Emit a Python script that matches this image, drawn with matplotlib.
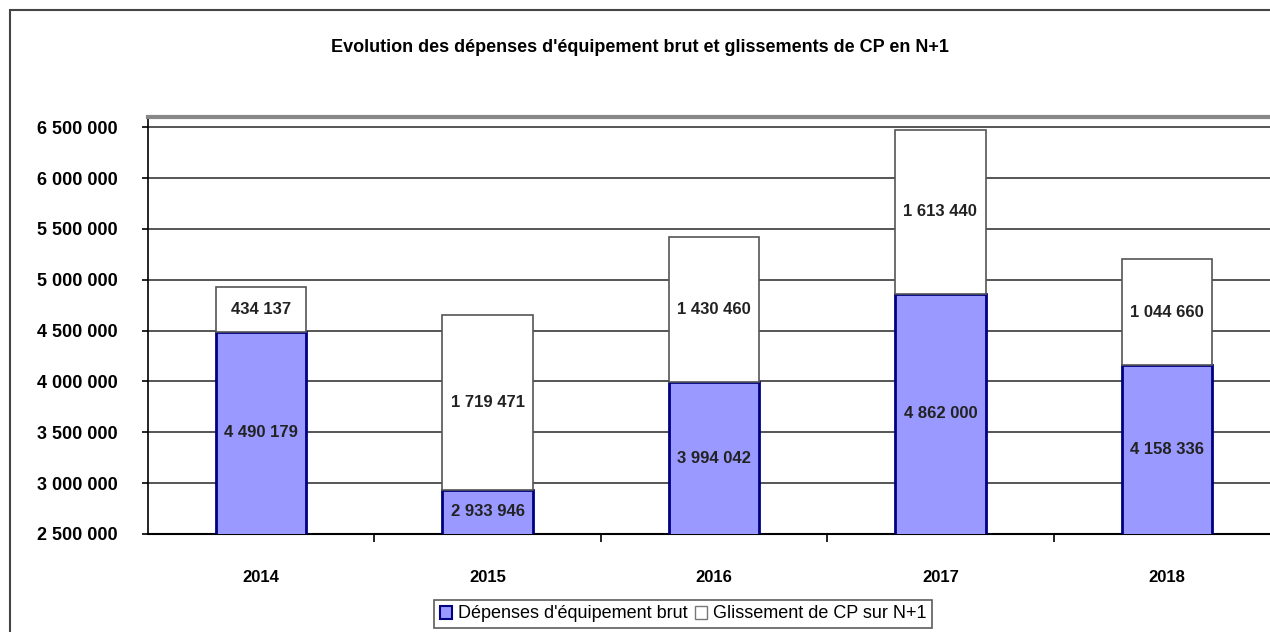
import matplotlib
matplotlib.use("Agg")
import matplotlib.pyplot as plt
from matplotlib.patches import Rectangle, Patch
from matplotlib.ticker import FuncFormatter

years = ["2014", "2015", "2016", "2017", "2018"]
depenses = [4490179, 2933946, 3994042, 4862000, 4158336]
glissement = [434137, 1719471, 1430460, 1613440, 1044660]
ticks = [2500000, 3000000, 3500000, 4000000, 4500000, 5000000, 5500000, 6000000, 6500000]

title = "Evolution des dépenses d'équipement brut et glissements de CP en N+1"
leg_labels = ["Dépenses d'équipement brut", "Glissement de CP sur N+1"]

FONT = ["Liberation Sans", "DejaVu Sans"]
plt.rcParams["font.family"] = FONT

W, H = 1270, 632
fig = plt.figure(figsize=(W / 100, H / 100), dpi=100)
fig.patch.set_facecolor("white")

# outer chart border
fig.add_artist(Rectangle((10 / W, -0.05), 1.1, 1 - 10 / H + 0.05, transform=fig.transFigure,
                         fill=False, edgecolor="#444444", linewidth=1.5, clip_on=False))

left, right = 148 / W, 1.0
bottom, top = 1 - 534 / H, 1 - 117 / H
ax = fig.add_axes([left, bottom, right - left, top - bottom])

ymin, ymax = 2500000, 6600000
x = list(range(len(years)))
bw = 0.4
ax.bar(x, depenses, width=bw, color="#9999FF", edgecolor="#000080", linewidth=2, zorder=3)
ax.bar(x, glissement, width=bw, bottom=depenses, color="white", edgecolor="#555555",
       linewidth=1.2, zorder=3)

ax.set_ylim(ymin, ymax)
ax.set_xlim(-0.5, 4.5 - 10 / 226)

def fmt(v):
    return f"{int(v):,}".replace(",", " ")

ax.set_yticks(ticks)
ax.yaxis.set_major_formatter(FuncFormatter(lambda v, p: fmt(v)))
ax.set_xticks(x)
ax.set_xticklabels(years)
ax.set_xticks([i + 0.5 for i in x[:-1]], minor=True)
ax.tick_params(axis="x", which="major", length=0, pad=26, labelsize=12)
ax.tick_params(axis="x", which="minor", length=6, width=1.2, color="black", direction="out")
ax.tick_params(axis="y", length=4, width=1.2, direction="out", labelsize=13, pad=18)
for lab in ax.get_xticklabels() + ax.get_yticklabels():
    lab.set_fontweight("bold")

for t in ticks[1:]:
    ax.axhline(t, color="#555555", linewidth=1.4, zorder=1)

ax.spines["right"].set_visible(False)
ax.spines["top"].set_color("#888888")
ax.spines["top"].set_linewidth(3)
ax.spines["left"].set_linewidth(1.2)
ax.spines["bottom"].set_linewidth(1.5)

for i in x:
    c1 = (max(ymin, 0) + depenses[i]) / 2 if depenses[i] > ymin else ymin
    c1 = (ymin + depenses[i]) / 2
    ax.text(i, c1, fmt(depenses[i]), ha="center", va="center", fontsize=12,
            fontweight="bold", color="#222222", zorder=5)
    c2 = depenses[i] + glissement[i] / 2
    ax.text(i, c2, fmt(glissement[i]), ha="center", va="center", fontsize=12,
            fontweight="bold", color="#222222", zorder=5)

fig.text(640 / W, 1 - 47 / H, title, ha="center", va="center", fontsize=13, fontweight="bold")

handles = [Patch(facecolor="#9999FF", edgecolor="#000080", linewidth=1.5),
           Patch(facecolor="white", edgecolor="#777777", linewidth=1)]
leg = fig.legend(handles, leg_labels, loc="center", bbox_to_anchor=(683 / W, 1 - 614 / H),
                 ncol=2, frameon=True, fontsize=13, handlelength=0.7, handleheight=0.7,
                 handletextpad=0.3, columnspacing=0.4, borderpad=0.3, fancybox=False)
leg.get_frame().set_edgecolor("#333333")
leg.get_frame().set_linewidth(1.2)

fig.savefig("out.png", dpi=100)
